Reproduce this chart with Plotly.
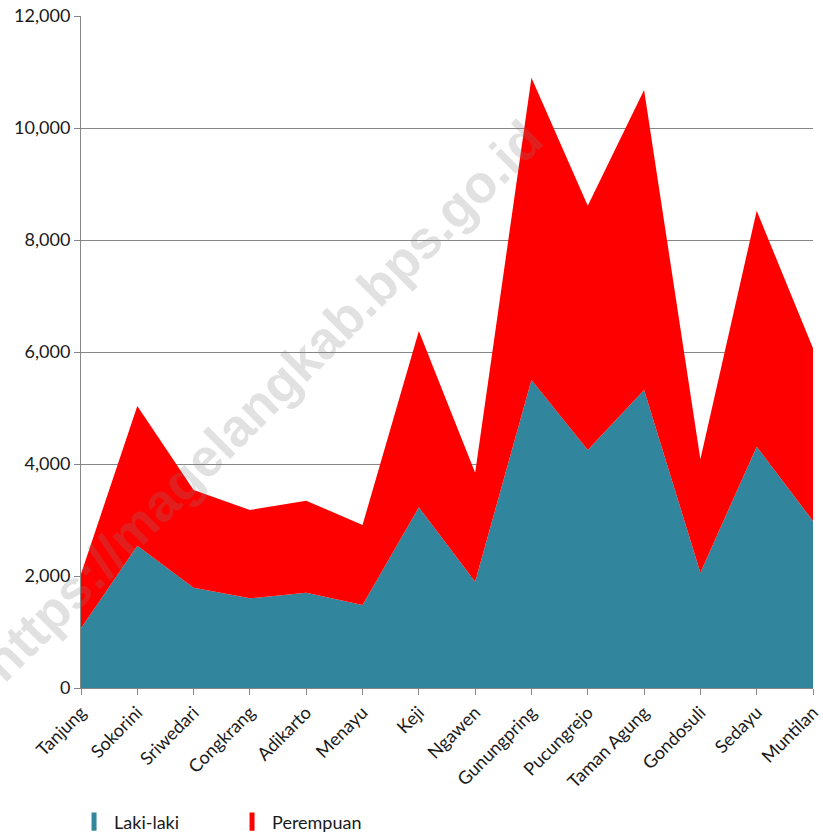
import plotly.graph_objects as go

categories = ["Tanjung", "Sokorini", "Sriwedari", "Congkrang", "Adikarto", "Menayu", "Keji",
              "Ngawen", "Gunungpring", "Pucungrejo", "Taman Agung", "Gondosuli", "Sedayu", "Muntilan"]
laki_laki = [1066, 2542, 1792, 1601, 1702, 1482, 3226, 1899, 5500, 4250, 5321, 2060, 4310, 2982]
perempuan = [970, 2494, 1744, 1578, 1643, 1429, 3149, 1946, 5399, 4363, 5358, 2023, 4214, 3084]
y_ticks = [0, 2000, 4000, 6000, 8000, 10000, 12000]
series_names = ["Laki-laki", "Perempuan"]
series_colors = ["#31859C", "#FF0000"]

FONT = "Lato, 'Open Sans', sans-serif"

fig = go.Figure()
for name, vals, col in zip(series_names, [laki_laki, perempuan], series_colors):
    fig.add_trace(go.Scatter(x=categories, y=vals, name=name, stackgroup="one",
                             mode="none", fillcolor=col, line=dict(width=0),
                             showlegend=False))
for name, col in zip(series_names, series_colors):
    fig.add_trace(go.Scatter(x=[None], y=[None], name=name, mode="markers",
                             marker=dict(symbol="line-ns", size=13, color=col,
                                         line=dict(width=7, color=col)),
                             showlegend=True))

fig.update_layout(
    width=823, height=835,
    margin=dict(l=81, r=10, t=16, b=147, autoexpand=False),
    paper_bgcolor="white", plot_bgcolor="white",
    font=dict(family=FONT, size=18, color="#1a1a1a"),
    showlegend=True,
    legend=dict(orientation="h", x=-0.0095, xanchor="left", y=-0.1994, yanchor="middle",
                traceorder="normal", font=dict(size=18),
                entrywidth=113, entrywidthmode="pixels", itemsizing="trace"),
    hovermode=False,
)
fig.update_xaxes(type="category", range=[0, len(categories) - 1], tickangle=-45,
                 showline=True, linecolor="#868686", linewidth=1,
                 ticks="outside", ticklen=6, tickcolor="#868686",
                 showgrid=False, zeroline=False, tickfont=dict(size=18), automargin=False,
                 ticklabeloverflow="allow")
fig.update_yaxes(range=[0, 12000], tickvals=y_ticks, tickformat=",",
                 showline=True, linecolor="#868686", linewidth=1,
                 ticks="outside", ticklen=6, tickcolor="#868686",
                 showgrid=True, gridcolor="#868686", gridwidth=1,
                 zeroline=False, tickfont=dict(size=18), layer="below traces", automargin=False,
                 ticklabeloverflow="allow")

fig.add_annotation(text="https://magelangkab.bps.go.id", xref="paper", yref="paper",
                   x=(262 - 81) / 732, y=(688 - 400) / 672, xanchor="center", yanchor="middle",
                   showarrow=False, textangle=-45,
                   font=dict(family="Liberation Sans, Arial, sans-serif", size=53,
                             color="rgba(128,128,128,0.24)", weight="bold"))

fig.write_html("out.html", config={"displayModeBar": False},
               post_script="document.body.style.margin='0px';")
